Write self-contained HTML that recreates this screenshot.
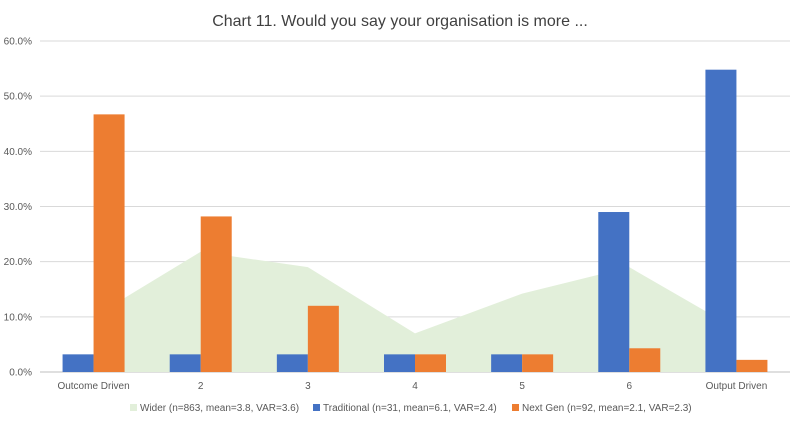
<!DOCTYPE html>
<html><head><meta charset="utf-8"><style>
body{margin:0;background:#fff;font-family:"Liberation Sans",sans-serif}
</style></head><body>
<svg id="c" width="800" height="421" xmlns="http://www.w3.org/2000/svg">
<text x="400" y="26" text-anchor="middle" font-size="16" fill="#404040" font-family="Liberation Sans, sans-serif">Chart 11. Would you say your organisation is more ...</text>
<g id="grid"></g><g id="area"></g><g id="bars"></g><g id="xl"></g>
<g font-size="10" fill="#595959" font-family="Liberation Sans, sans-serif">
<rect x="130" y="404" width="7" height="7" fill="#e2efda"/>
<text x="140" y="411">Wider (n=863, mean=3.8, VAR=3.6)</text>
<rect x="313" y="404" width="7" height="7" fill="#4472c4"/>
<text x="323" y="411">Traditional (n=31, mean=6.1, VAR=2.4)</text>
<rect x="512" y="404" width="7" height="7" fill="#ed7d31"/>
<text x="522" y="411">Next Gen (n=92, mean=2.1, VAR=2.3)</text>
</g>
</svg>
<script>
const categories=["Outcome Driven","2","3","4","5","6","Output Driven"];
const wider=[10.0,21.8,19.0,7.0,14.2,19.0,7.8];
const traditional=[3.2,3.2,3.2,3.2,3.2,29.0,54.8];
const nextGen=[46.7,28.2,12.0,3.2,3.2,4.3,2.2];
const yTicks=[0,10,20,30,40,50,60];
const NS="http://www.w3.org/2000/svg";
const L=40,R=790,T=41,B=372;
const step=(R-L)/categories.length;
const xC=i=>L+step*(i+0.5);
const y=v=>B-(v/60)*(B-T);
function mk(t,a,p){const e=document.createElementNS(NS,t);for(const k in a)e.setAttribute(k,a[k]);p.appendChild(e);return e;}
const grid=document.getElementById('grid');
yTicks.forEach(t=>{
 const l=mk('line',{x1:L,x2:R,y1:y(t),y2:y(t),stroke:t?'#d9d9d9':'#bfbfbf','stroke-width':1},grid);
 
 
 const tx=mk('text',{x:L-8,y:y(t)+3.5,'text-anchor':'end','font-size':10,fill:'#595959','font-family':'Liberation Sans, sans-serif'},grid);
 tx.textContent=t.toFixed(1)+'%';
 
 
});
let d=`M${xC(0)},${B}`;wider.forEach((v,i)=>d+=` L${xC(i)},${y(v)}`);d+=` L${xC(wider.length-1)},${B}Z`;
const ar=mk('path',{d:d,fill:'#e2efda'},document.getElementById('area'));


const bars=document.getElementById('bars'),xl=document.getElementById('xl');
const bw=31;
categories.forEach((c,i)=>{
 const b1=mk('rect',{x:xC(i)-bw,y:y(traditional[i]),width:bw,height:B-y(traditional[i]),fill:'#4472c4'},bars);
 
 
 const b2=mk('rect',{x:xC(i),y:y(nextGen[i]),width:bw,height:B-y(nextGen[i]),fill:'#ed7d31'},bars);
 
 
 const t=mk('text',{x:xC(i),y:389,'text-anchor':'middle','font-size':10,fill:'#595959','font-family':'Liberation Sans, sans-serif'},xl);
 t.textContent=c;
 
 
});
</script>
</body></html>
